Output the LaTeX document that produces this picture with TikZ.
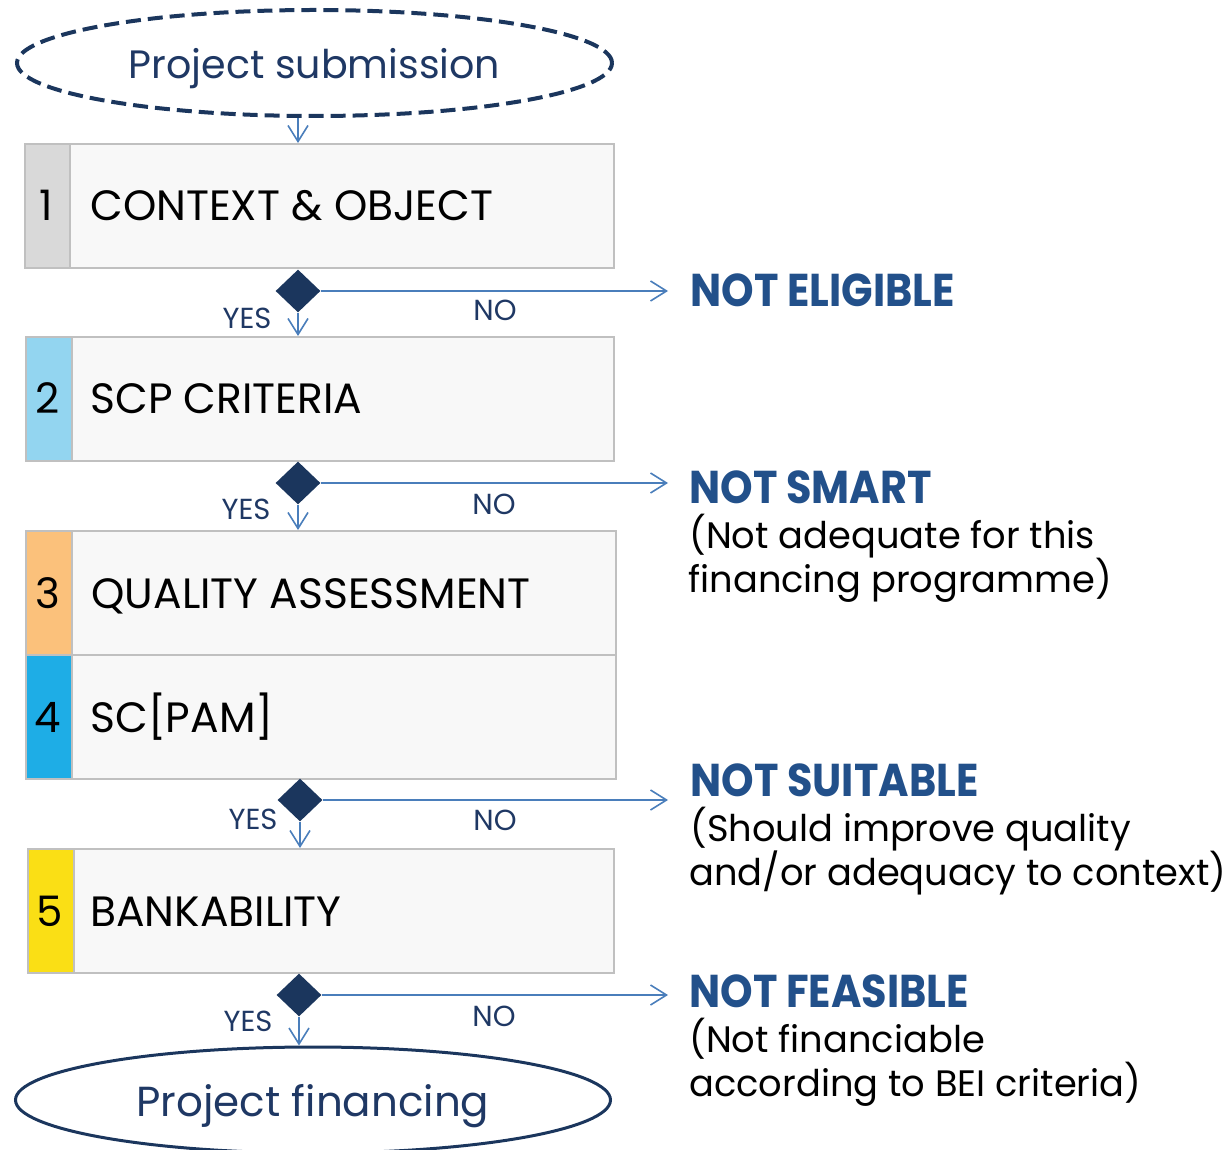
\documentclass[tikz,border=0pt]{standalone}
\usepackage{fontspec}
\setmainfont{Poppins}
\usetikzlibrary{shapes.geometric,arrows.meta}
\definecolor{navy}{HTML}{1B365D}
\definecolor{arrowblue}{HTML}{4A7EBB}
\definecolor{txtnavy}{HTML}{1F3864}
\definecolor{boldblue}{HTML}{22508A}
\definecolor{boxline}{HTML}{C0C0C0}
\definecolor{boxfill}{HTML}{F8F8F8}
\definecolor{cgray}{HTML}{D9D9D9}
\definecolor{clblue}{HTML}{93D5F0}
\definecolor{corange}{HTML}{FBC17B}
\definecolor{cblue}{HTML}{1EADE6}
\definecolor{cyellow}{HTML}{FADF15}
\begin{document}
\begin{tikzpicture}[x=0.5pt,y=-0.5pt,
  cell/.style={draw=boxline, line width=1pt, minimum height=62pt, inner sep=0pt, anchor=north west},
  mainbox/.style={draw=boxline, fill=boxfill, line width=1pt, minimum height=62pt, inner sep=0pt, anchor=north west},
  steptext/.style={anchor=base west, inner sep=0pt, text=black, font=\fontsize{21.2}{25}\selectfont},
  numtext/.style={anchor=base, inner sep=0pt, text=black, font=\fontsize{21}{25}\selectfont},
  dec/.style={diamond, fill=navy, minimum width=22.5pt, minimum height=21.5pt, inner sep=0pt},
  arr/.style={draw=arrowblue, line width=0.8pt, -{Straight Barb[length=8pt,width=10pt,line width=0.8pt]}},
  yn/.style={inner sep=0pt, text=txtnavy, font=\fontsize{14.5}{17}\selectfont},
  title/.style={anchor=base west, inner sep=0pt, text=boldblue, font=\fontsize{23}{26}\selectfont\bfseries},
  desc/.style={anchor=base west, inner sep=0pt, text=black, font=\fontsize{18.4}{22}\selectfont},
  term/.style={ellipse, draw=navy, minimum width=297.5pt, minimum height=53pt, inner sep=0pt, text depth=0pt, text=txtnavy}
]
\useasboundingbox (0,0) rectangle (1229,1149);

% start
\node[term, line width=2pt, dash pattern=on 7.5pt off 3.5pt, font=\fontsize{19.8}{24}\selectfont] (s1) at (314.5,63) {Project submission};

% box 1
\node[cell, fill=cgray, minimum width=22.5pt] (n1) at (24,143) {};
\node[mainbox, minimum width=272pt] (b1) at (69,143) {};
\node[numtext] (k1) at (46,221) {1};
\node[steptext] (t1) at (90,221) {CONTEXT \& OBJECT};

% box 2
\node[cell, fill=clblue, minimum width=23pt] (n2) at (25,336) {};
\node[mainbox, minimum width=271pt] (b2) at (71,336) {};
\node[numtext] (k2) at (48,414) {2};
\node[steptext] (t2) at (90,414) {SCP CRITERIA};

% box 3
\node[cell, fill=corange, minimum width=23pt] (n3) at (25,530) {};
\node[mainbox, minimum width=272pt] (b3) at (71,530) {};
\node[numtext] (k3) at (48,608) {3};
\node[steptext] (t3) at (91,608) {QUALITY ASSESSMENT};

% box 4
\node[cell, fill=cblue, minimum width=23pt] (n4) at (25,654) {};
\node[mainbox, minimum width=272pt] (b4) at (71,654) {};
\node[numtext] (k4) at (48,732) {4};
\node[steptext] (t4) at (90,732) {SC[PAM]};

% box 5
\node[cell, fill=cyellow, minimum width=23pt] (n5) at (27,848) {};
\node[mainbox, minimum width=270pt] (b5) at (73,848) {};
\node[numtext] (k5) at (50,926) {5};
\node[steptext] (t5) at (90,926) {BANKABILITY};

% end
\node[term, line width=1.5pt, font=\fontsize{21}{25}\selectfont] (s2) at (313,1100) {Project financing};

% decisions
\node[dec] (d1) at (298,291) {};
\node[dec] (d2) at (298,483) {};
\node[dec] (d3) at (300,800) {};
\node[dec] (d4) at (299,995) {};

\coordinate (e1) at (668,291);
\coordinate (e2) at (668,483);
\coordinate (e3) at (668,800);
\coordinate (e4) at (668,995);

% arrows
\draw[arr] (s1.south -| d1) -- (d1 |- n1.north);
\draw[arr] (d1.south) -- (d1 |- n2.north);
\draw[arr] (d2.south) -- (d2 |- n3.north);
\draw[arr] (d3.south) -- (d3 |- n5.north);
\draw[arr] (d4.south) -- (d4 |- s2.north);
\draw[arr] (d1.east) -- (e1);
\draw[arr] (d2.east) -- (e2);
\draw[arr] (d3.east) -- (e3);
\draw[arr] (d4.east) -- (e4);

% yes/no labels
\node[yn] (y1) at (247,318) {YES};
\node[yn] (o1) at (495,310) {NO};
\node[yn] (y2) at (246,509) {YES};
\node[yn] (o2) at (494,504) {NO};
\node[yn] (y3) at (253,819) {YES};
\node[yn] (o3) at (495,820) {NO};
\node[yn] (y4) at (248,1021) {YES};
\node[yn] (o4) at (494,1016) {NO};

% outcomes
\node[title] (r1) at (690,307) {\scalebox{0.9}[1]{NOT ELIGIBLE}};
\node[title] (r2) at (689,503) {\scalebox{0.9}[1]{NOT SMART}};
\node[desc] (r2a) at (689,548) {(Not adequate for this};
\node[desc] (r2b) at (688,592) {financing programme)};
\node[title] (r3) at (690,796) {\scalebox{0.9}[1]{NOT SUITABLE}};
\node[desc] (r3a) at (690,841) {(Should improve quality};
\node[desc] (r3b) at (689,885) {and/or adequacy to context)};
\node[title] (r4) at (689,1007) {\scalebox{0.9}[1]{NOT FEASIBLE}};
\node[desc] (r4a) at (689,1052) {(Not financiable};
\node[desc] (r4b) at (689,1096) {according to BEI criteria)};
\end{tikzpicture}
\end{document}
